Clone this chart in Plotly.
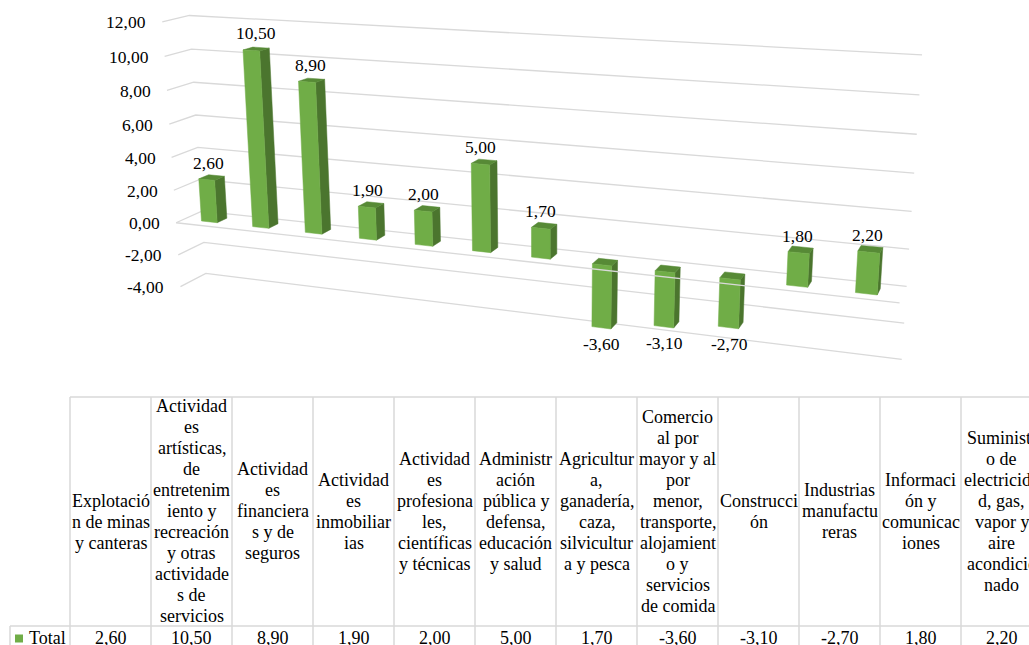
import numpy as np
import plotly.graph_objects as go

# ---------- data ----------
categories = [
    ["", "Explotació", "n de minas", "y canteras"],
    ["Actividad", "es", "artísticas,", "de", "entretenim", "iento y", "recreación", "y otras", "actividade", "s de", "servicios"],
    ["Actividad", "es", "financiera", "s y de", "seguros"],
    ["Actividad", "es", "inmobiliar", "ias"],
    ["Actividad", "es", "profesiona", "les,", "científicas", "y técnicas"],
    ["Administr", "ación", "pública y", "defensa,", "educación", "y salud"],
    ["Agricultur", "a,", "ganadería,", "caza,", "silvicultur", "a y pesca"],
    ["Comercio", "al por", "mayor y al", "por", "menor,", "transporte,", "alojamient", "o y", "servicios", "de comida"],
    ["Construcci", "ón"],
    ["Industrias", "manufactu", "reras"],
    ["Informaci", "ón y", "comunicac", "iones"],
    ["Suministr", "o de", "electricida", "d, gas,", "vapor y", "aire", "acondicio", "nado"],
]
values = [2.6, 10.5, 8.9, 1.9, 2.0, 5.0, 1.7, -3.6, -3.1, -2.7, 1.8, 2.2]
axis_ticks = [12, 10, 8, 6, 4, 2, 0, -2, -4]
series_name = "Total"

# ---------- styles ----------
FRONT, SIDE, TOP = "#70ad47", "#4b752e", "#578a36"
GRID = "#d9d9d9"
TEXT = "#000000"
SERIF = "Liberation Serif"

# ---------- camera calibration: (category, value, depth) -> screen ----------
WALL_L, WALL_R, DEPTH_F, DEPTH_B = -0.5, 11.5, -0.8, 1.8
BAR_W = 0.31
cal_back_left = [190, 15, 192, 49, 193, 82, 197, 115, 197, 148, 198, 180, 200, 212, 205, 242, 207, 273]
cal_back_right = [922, 55, 919, 95, 917, 134, 914, 173, 912, 211, 909, 249, 907, 286, 904, 323, 902, 359]
cal_front_left = [162, 22, 164, 56, 167, 90, 169, 124, 172, 157, 174, 190, 177, 222, 178, 255, 180, 286]
cal_bar_base = [202, 220, 253, 227, 305, 232, 359, 238, 415, 244, 472, 251,
                532, 257, 592, 265, 655, 271, 720, 278, 787, 284, 855, 292]
cal_bar_end = [199, 179, 243, 50, 299, 82, 358, 207, 414, 211, 472, 164,
               532, 228, 592, 327, 654, 326, 718, 327, 787, 252, 858, 250]

world, screen = [], []
for k, t in enumerate(axis_ticks):
    world.append((WALL_L, t, DEPTH_B)); screen.append(cal_back_left[2 * k:2 * k + 2])
    world.append((WALL_R, t, DEPTH_B)); screen.append(cal_back_right[2 * k:2 * k + 2])
    world.append((WALL_L, t, DEPTH_F)); screen.append(cal_front_left[2 * k:2 * k + 2])
world.append((WALL_R, 0, DEPTH_F)); screen.append([900, 303])
for i, val in enumerate(values):
    world.append((i - BAR_W / 2, 0, 0)); screen.append(cal_bar_base[2 * i:2 * i + 2])
    world.append((i - BAR_W / 2, val, 0)); screen.append(cal_bar_end[2 * i:2 * i + 2])

A, b = [], []
for (X, Y, Z), (u, w) in zip(world, screen):
    A.append([X, Y, Z, 1, 0, 0, 0, 0, -u * X, -u * Y, -u * Z]); b.append(u)
    A.append([0, 0, 0, 0, X, Y, Z, 1, -w * X, -w * Y, -w * Z]); b.append(w)
P = np.append(np.linalg.lstsq(np.array(A, float), np.array(b, float), rcond=None)[0], 1).reshape(3, 4)


def proj(X, Y, Z):
    p = P @ np.array([X, Y, Z, 1.0])
    return p[0] / p[2], p[1] / p[2]


def add_poly(xs, ys, pts):
    for pt in pts + pts[:1]:
        u, w = proj(*pt)
        xs.append(u); ys.append(w)
    xs.append(None); ys.append(None)


fig = go.Figure()

# ---------- walls ----------
gx, gy = [], []
for t in axis_ticks:
    for pt in [(WALL_L, t, DEPTH_F), (WALL_L, t, DEPTH_B), (WALL_R, t, DEPTH_B)]:
        u, w = proj(*pt)
        gx.append(u); gy.append(w)
    gx.append(None); gy.append(None)
fig.add_trace(go.Scatter(x=gx, y=gy, mode="lines", line=dict(color=GRID, width=1.3), hoverinfo="skip"))

# ---------- bars ----------
sx, sy, tx, ty, fx, fy = [], [], [], [], [], []
for i, val in enumerate(values):
    x0, x1 = i - BAR_W / 2, i + BAR_W / 2
    top, bot = max(val, 0), min(val, 0)
    add_poly(sx, sy, [(x1, bot, 0), (x1, top, 0), (x1, top, 1), (x1, bot, 1)])
    add_poly(tx, ty, [(x0, top, 0), (x1, top, 0), (x1, top, 1), (x0, top, 1)])
    add_poly(fx, fy, [(x0, bot, 0), (x1, bot, 0), (x1, top, 0), (x0, top, 0)])
for xs, ys, col in [(sx, sy, SIDE), (tx, ty, TOP), (fx, fy, FRONT)]:
    fig.add_trace(go.Scatter(x=xs, y=ys, mode="lines", fill="toself", fillcolor=col,
                             line=dict(color=col, width=0.5), hoverinfo="skip"))

# ---------- floor front edge, in front of the bars ----------
ex, ey = zip(proj(WALL_L, 0, DEPTH_F), proj(WALL_R, 0, DEPTH_F))
fig.add_trace(go.Scatter(x=ex, y=ey, mode="lines", line=dict(color=GRID, width=1.3), hoverinfo="skip"))


def fmt(v):
    return f"{v:.2f}".replace(".", ",")


ann = []


def label(x, y, text, size=17.5, anchor="center"):
    ann.append(dict(x=x, y=y, text=text, showarrow=False, xanchor=anchor, yanchor="middle",
                    xref="x", yref="y", font=dict(family=SERIF, size=size, color=TEXT)))


# value-axis labels
for t in axis_ticks:
    u, w = proj(WALL_L, t, DEPTH_F)
    label(u - 14, w + 0.5, fmt(t), anchor="right")

# data labels: centred between the bar's base and its end, just beyond the end
for i, val in enumerate(values):
    u0, _ = proj(i, 0, 0)
    u, w = proj(i, val, 0)
    label((u + u0) / 2, w + (16 if val < 0 else -17), fmt(val))

# ---------- data table ----------
TBL_X0, TBL_DX, TBL_TOP, TBL_ROW, TBL_BOTTOM = 70, 81, 397, 626, 645
LEG_X, LINE_H, FIG_W = 10, 21, 1029
tx_, ty_ = [TBL_X0, FIG_W, None, LEG_X, FIG_W, None, LEG_X, LEG_X, None], [TBL_TOP, TBL_TOP, None, TBL_ROW, TBL_ROW, None, TBL_ROW, TBL_BOTTOM, None]
for k in range(len(categories) + 1):
    tx_ += [TBL_X0 + k * TBL_DX] * 2 + [None]
    ty_ += [TBL_TOP, TBL_BOTTOM, None]
fig.add_trace(go.Scatter(x=tx_, y=ty_, mode="lines", line=dict(color=GRID, width=1.5), hoverinfo="skip"))

mid = (TBL_TOP + TBL_ROW) / 2 - 0.5
for k, lines in enumerate(categories):
    cx = TBL_X0 + (k + 0.5) * TBL_DX
    for j, line in enumerate(lines):
        if line:
            label(cx, mid + (j - (len(lines) - 1) / 2) * LINE_H, line, size=18)
    label(cx, 638, fmt(values[k]), size=18)
label(27, 638, series_name, size=18, anchor="left")
fig.add_trace(go.Scatter(x=[19], y=[638.5], mode="markers", marker=dict(symbol="square", size=8, color=FRONT),
                         hoverinfo="skip"))

fig.update_layout(
    width=1029, height=645, margin=dict(l=0, r=0, t=0, b=0), showlegend=False,
    paper_bgcolor="white", plot_bgcolor="white", annotations=ann,
    xaxis=dict(range=[0, 1029], visible=False, fixedrange=True),
    yaxis=dict(range=[645, 0], visible=False, fixedrange=True),
)
fig.write_html("out.html", config=dict(displayModeBar=False),
               post_script="document.body.style.margin='0';document.body.style.overflow='hidden';")
